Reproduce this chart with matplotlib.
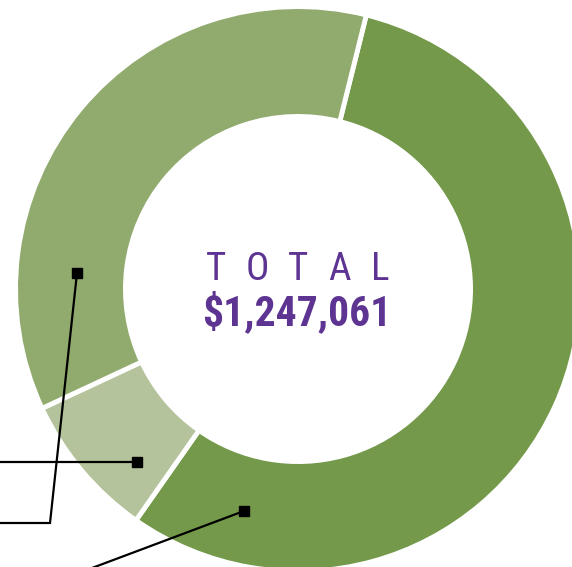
import matplotlib
matplotlib.use("Agg")
import matplotlib.pyplot as plt
from matplotlib import font_manager

# ---- data ----
categories = ["Category A", "Category B", "Category C"]
values = [696300, 103900, 446861]
total_label = "TOTAL"
total_value = "$1,247,061"

colors = ["#74994a", "#b4c39c", "#91aa6e"]
purple = "#5e3492"

W, H = 572, 567
fig = plt.figure(figsize=(W / 100, H / 100), dpi=100)
ax = fig.add_axes([0, 0, 1, 1])
ax.set_xlim(0, W)
ax.set_ylim(0, H)
ax.set_aspect("equal")
ax.axis("off")


def py(y):
    return H - y


cx, cy = 298, py(289)
lw_pt = 3.5
lw_px = lw_pt * 100 / 72
R_out, R_in = 280, 175
radius = R_out + lw_px / 2
width = radius - (R_in - lw_px / 2)

ax.pie(values, colors=colors, startangle=76, counterclock=False,
       center=(cx, cy), radius=radius,
       wedgeprops=dict(width=width, edgecolor="white", linewidth=lw_pt))
ax.set_xlim(0, W)
ax.set_ylim(0, H)

# font choice
avail = {f.name for f in font_manager.fontManager.ttflist}
fam = "DejaVu Sans"
for cand in ["Liberation Sans Narrow", "DejaVu Sans Condensed", "Roboto Condensed",
             "Open Sans Condensed"]:
    if cand in avail:
        fam = cand
        break
stretch = "normal" if fam != "DejaVu Sans" else "condensed"

# TOTAL (spaced letters)
for i, ch in enumerate(total_label):
    ax.text(298 + (i - 2) * 41, py(269), ch, ha="center", va="center",
            color=purple, fontsize=28, family=fam, fontstretch=stretch)
ax.text(297, py(313), total_value, ha="center", va="center", color=purple,
        fontsize=30, fontweight="bold", family=fam, fontstretch=stretch)

# leader lines
leaders = [
    [(77, 273), (50, 523), (-5, 523)],
    [(137, 462), (-5, 462)],
    [(244, 511), (80, 572.5)],
]
for pts in leaders:
    xs = [p[0] for p in pts]
    ys = [py(p[1]) for p in pts]
    ax.plot(xs, ys, color="black", lw=1.6, solid_joinstyle="miter", clip_on=False)
    ax.plot(xs[0], ys[0], marker="s", ms=6.5, color="black")

fig.savefig("out.png", dpi=100)
